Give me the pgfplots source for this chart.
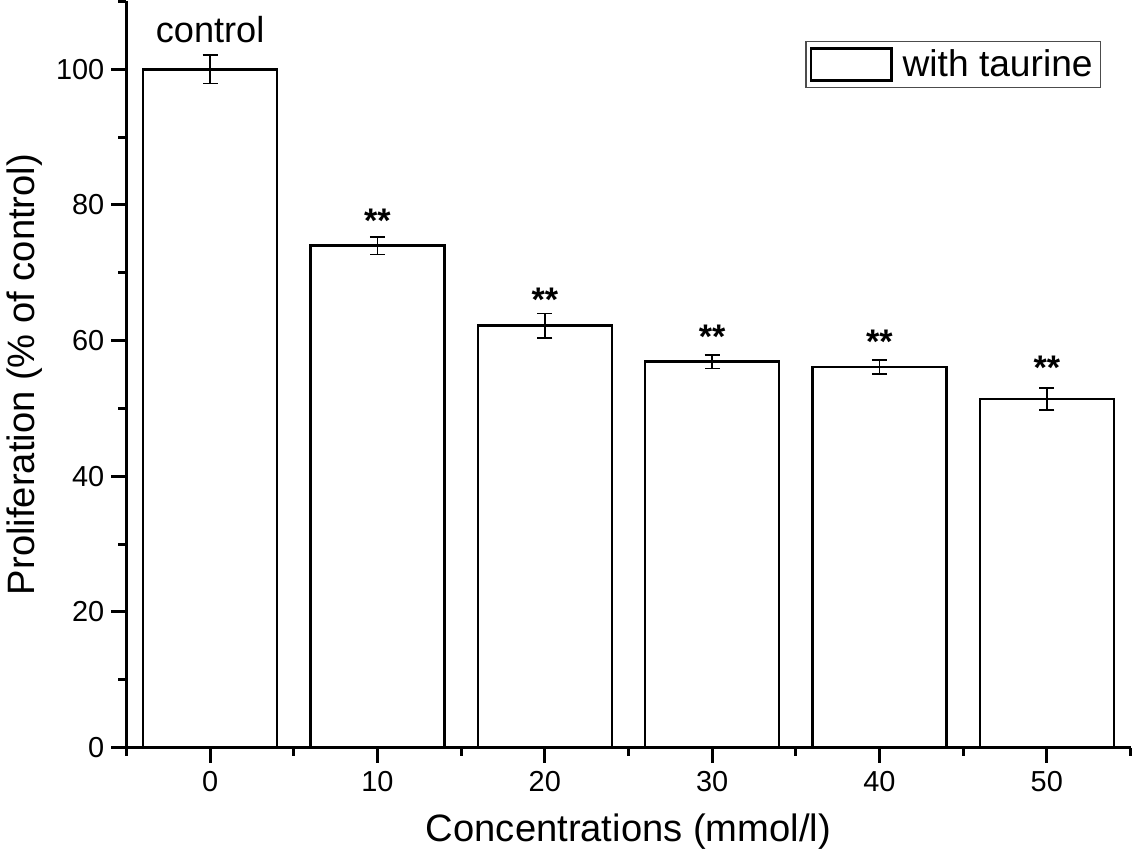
\documentclass[border=0pt]{standalone}
\usepackage{pgfplots}
\pgfplotsset{compat=1.18}
\usepackage{fontspec}
\setmainfont{Liberation Sans}
\pgfplotstableread{
x y e
0 100 2.1
10 74.0 1.3
20 62.2 1.8
30 56.9 1.0
40 56.1 1.0
50 51.4 1.6
}\datatable
\begin{document}
\begin{tikzpicture}
\begin{axis}[
 width=500pt, height=371.5pt, scale only axis,
 xmin=-5, xmax=55, ymin=0, ymax=110,
 axis x line=bottom, axis y line=left,
 axis line style={-, line width=1.5pt},
 xtick={0,10,...,50}, ytick={0,20,...,100},
 minor xtick={-5,5,...,55}, minor ytick={10,30,...,110},
 tick align=outside,
 major tick length=7.5pt, minor tick length=4pt,
 every tick/.style={black, line width=1.5pt},
 tick label style={font=\fontsize{14.4}{16}\selectfont},
 xticklabel style={yshift=-1pt},
 /pgf/number format/assume math mode=true,
 label style={font=\fontsize{19}{22}\selectfont},
 xlabel style={yshift=-4pt},
 xlabel={Concentrations (mmol/l)},
 ylabel={Proliferation (\% of control)},
 legend style={at={(0.971,0.9475)}, anchor=north east, draw=gray!60!black, line width=0.7pt,
   font=\fontsize{18.5}{20}\selectfont, inner xsep=2pt, inner ysep=2pt},
 legend image code/.code={\draw[line width=1.2pt] (0pt,-8pt) rectangle (40pt,8pt); \path (43pt,0pt);},
]
\addplot[ybar, bar width=8, fill=white, draw=black, line width=1.2pt,
  error bars/.cd, y dir=both, y explicit,
  error bar style={line width=0.8pt},
  error mark options={rotate=90, mark size=3.75pt, line width=0.8pt}]
  table[x=x, y=y, y error=e] {\datatable};
\addlegendentry{with taurine}
\node[anchor=base, font=\fontsize{18}{20}\selectfont] at (axis cs:0,103.9) {control};
\node[anchor=base, font=\fontsize{17}{20}\selectfont\bfseries] at (axis cs:10,76.0) {**};
\node[anchor=base, font=\fontsize{17}{20}\selectfont\bfseries] at (axis cs:20,64.3) {**};
\node[anchor=base, font=\fontsize{17}{20}\selectfont\bfseries] at (axis cs:30,58.8) {**};
\node[anchor=base, font=\fontsize{17}{20}\selectfont\bfseries] at (axis cs:40,58.1) {**};
\node[anchor=base, font=\fontsize{17}{20}\selectfont\bfseries] at (axis cs:50,54.2) {**};
\end{axis}
\end{tikzpicture}
\end{document}
